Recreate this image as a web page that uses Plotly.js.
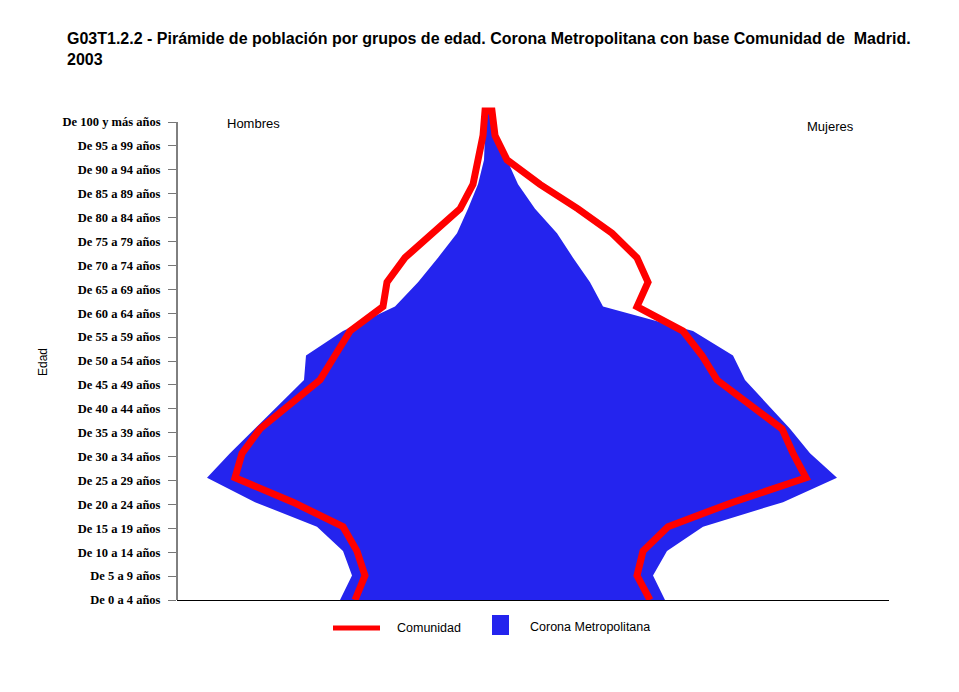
<!DOCTYPE html>
<html><head><meta charset="utf-8">
<script src="https://cdn.plot.ly/plotly-3.0.1.min.js"></script>
<style>
html,body{margin:0;padding:0;background:#fff;}
#chart{width:959px;height:692px;}
</style></head><body><div id="chart"></div>
<script>
// Age groups, bottom (youngest) to top (oldest)
const ageGroups = ["De 0 a 4 años","De 5 a 9 años","De 10 a 14 años","De 15 a 19 años","De 20 a 24 años",
  "De 25 a 29 años","De 30 a 34 años","De 35 a 39 años","De 40 a 44 años","De 45 a 49 años",
  "De 50 a 54 años","De 55 a 59 años","De 60 a 64 años","De 65 a 69 años","De 70 a 74 años",
  "De 75 a 79 años","De 80 a 84 años","De 85 a 89 años","De 90 a 94 años","De 95 a 99 años",
  "De 100 y más años"];
// Corona Metropolitana (blue area), relative size per age group
const coronaHombres = [147,135,144,170,232,280,257,232,207,183,181,144,92,69,49,30,19,9,3,2,0];
const coronaMujeres = [178,166,180,216,296,350,323,303,280,258,246,206,116,103,86,70,48,31,20,11,1];
// Comunidad (red line)
const comunidadHombres = [132,122,130,144,194,252,245,227,197,167,152,137,104,100,82,54,27,14,9,4,2];
const comunidadMujeres = [163,150,156,181,246,319,306,295,263,230,215,196,150,161,150,125,91,53,20,8,5];

const titleText = "G03T1.2.2 - Pirámide de población por grupos de edad. Corona Metropolitana con base Comunidad de  Madrid.<br>2003";
const legendNames = ["Comunidad","Corona Metropolitana"];
const sideLabels = ["Hombres","Mujeres"];
const yTitle = "Edad";

const blue = "#2424EE";
const red = "#FF0000";

// Build closed polygon for area and continuous outline for line
const revAges = ageGroups.slice().reverse();
const areaX = coronaHombres.map(v => -v).concat(coronaMujeres.slice().reverse());
const areaY = ageGroups.concat(revAges);
const lineX = comunidadHombres.map(v => -v).concat(comunidadMujeres.slice().reverse());
const lineY = ageGroups.concat(revAges);

const L = 177, R = 889, T = 105, B = 600, W = 959, H = 692;
const px = x => (x - L) / (R - L);
const py = y => (B - y) / (B - T);

const traces = [
  {type:"scatter", mode:"lines", x: areaX, y: areaY, yaxis:"y2", fill:"toself",
   fillcolor: blue, line:{width:0, color: blue}, name: legendNames[1], hoverinfo:"skip"},
  {type:"scatter", mode:"lines", x: lineX, y: lineY, yaxis:"y2",
   line:{width:7, color: red}, name: legendNames[0], hoverinfo:"skip"}
];

const layout = {
  width: W, height: H,
  paper_bgcolor:"#fff", plot_bgcolor:"#fff",
  margin:{l:L, r:W-R, t:T, b:H-B, pad:0},
  showlegend:false,
  title:{text:titleText, x:67/W, xanchor:"left", xref:"container", y:1-44/H, yanchor:"top", yref:"container",
    font:{family:"Liberation Sans, Arial, sans-serif", size:16, weight:"bold", color:"#000"}},
  xaxis:{range:[-(487-L), R-487], showgrid:false, zeroline:false, showticklabels:false, ticks:"",
    showline:true, linecolor:"#000", linewidth:1, layer:"below traces", fixedrange:true},
  yaxis:{type:"category", categoryarray: ageGroups, categoryorder:"array",
    range:[0, (B-T)/23.9], showgrid:false, zeroline:false, showline:false,
    ticks:"outside", ticklen:8, tickcolor:"#777", tickwidth:1, ticklabelstandoff:5,
    tickfont:{family:"Liberation Serif, Times New Roman, serif", size:12.5, weight:"bold", color:"#000"},
    fixedrange:true},
  yaxis2:{type:"category", categoryarray: ageGroups, categoryorder:"array", overlaying:"y",
    range:[0, (B-T)/24.45], visible:false, fixedrange:true},
  shapes:[
    {type:"line", xref:"paper", x0:0, x1:0, yref:"y", y0:ageGroups[0], y1:ageGroups[ageGroups.length-1],
     line:{color:"#000", width:1}},
    {type:"line", xref:"paper", yref:"paper", x0:px(333), x1:px(380), y0:py(628), y1:py(628),
     line:{color:red, width:5}},
    {type:"rect", xref:"paper", yref:"paper", x0:px(492), x1:px(509), y0:py(615), y1:py(635),
     fillcolor:blue, line:{width:0}}
  ],
  annotations:[
    {text:legendNames[0], xref:"paper", yref:"paper", x:px(395), y:py(628), xanchor:"left", yanchor:"middle",
     showarrow:false, font:{family:"Liberation Sans, Arial, sans-serif", size:12.5, color:"#000"}},
    {text:legendNames[1], xref:"paper", yref:"paper", x:px(528), y:py(627), xanchor:"left", yanchor:"middle",
     showarrow:false, font:{family:"Liberation Sans, Arial, sans-serif", size:12.5, color:"#000"}},
    {text:sideLabels[0], xref:"paper", yref:"paper", x:px(253), y:py(123), xanchor:"center", yanchor:"middle",
     showarrow:false, font:{family:"Liberation Sans, Arial, sans-serif", size:13, color:"#000"}},
    {text:sideLabels[1], xref:"paper", yref:"paper", x:px(830), y:py(126), xanchor:"center", yanchor:"middle",
     showarrow:false, font:{family:"Liberation Sans, Arial, sans-serif", size:13, color:"#000"}},
    {text:yTitle, xref:"paper", yref:"paper", x:px(43), y:py(362), xanchor:"center", yanchor:"middle", textangle:-90,
     showarrow:false, font:{family:"Liberation Sans, Arial, sans-serif", size:12, color:"#000"}}
  ]
};

Plotly.newPlot("chart", traces, layout, {displayModeBar:false, staticPlot:true});
</script></body></html>
